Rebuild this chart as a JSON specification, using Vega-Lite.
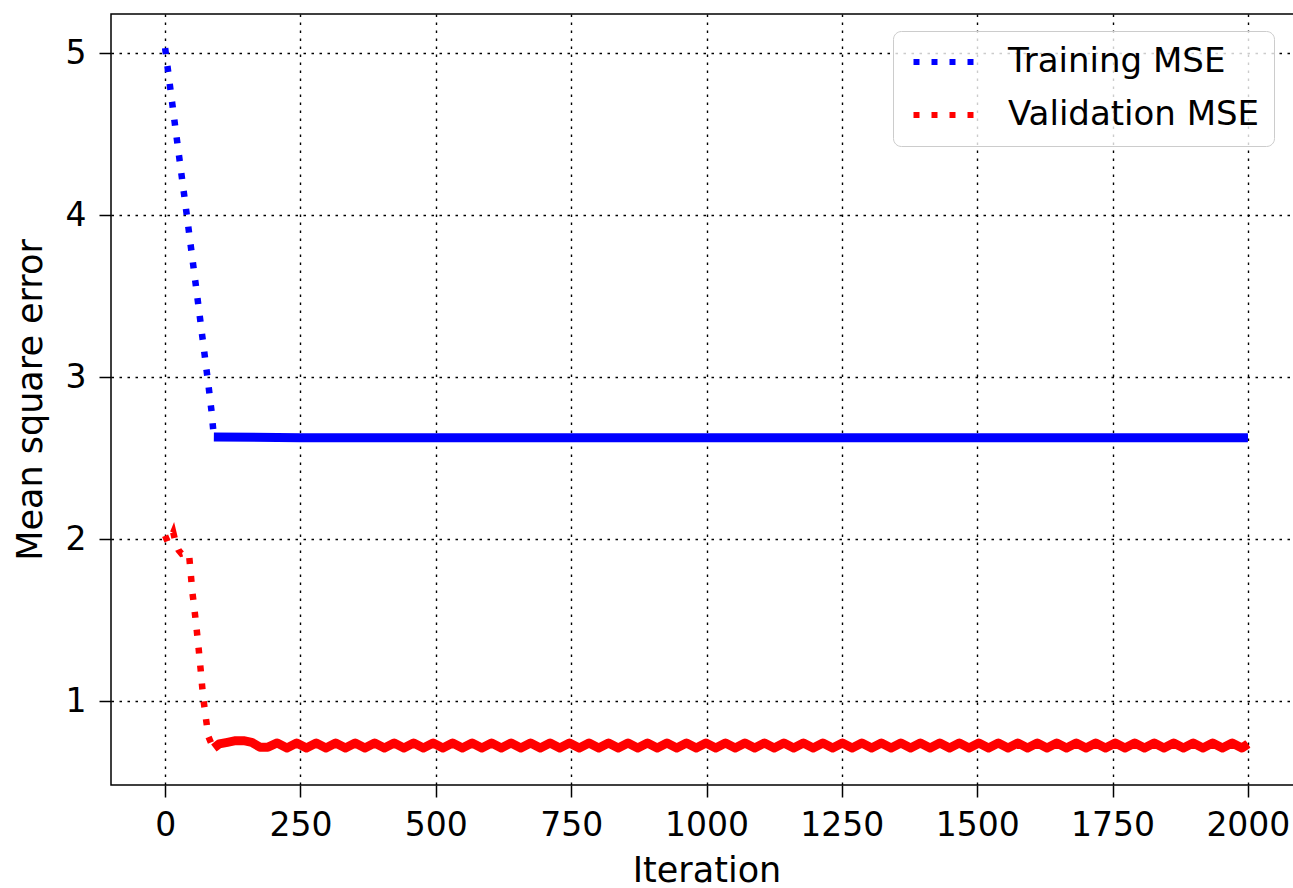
{
  "$schema": "https://vega.github.io/schema/vega-lite/v6.json",
  "autosize": {"type": "none"},
  "padding": {"left": 111, "top": 14, "right": 0, "bottom": 103},
  "width": 1191,
  "height": 771,
  "background": "white",
  "config": {
    "font": "DejaVu Sans",
    "view": {"stroke": "black", "strokeWidth": 1.5},
    "axis": {
      "grid": true,
      "gridColor": "black",
      "gridOpacity": 1,
      "gridWidth": 1.4,
      "gridDash": [2.5, 5.5],
      "domain": false,
      "tickColor": "black",
      "tickWidth": 1.5,
      "tickSize": 12,
      "labelFont": "DejaVu Sans",
      "labelFontSize": 33,
      "labelColor": "black",
      "titleFont": "DejaVu Sans",
      "titleFontSize": 35,
      "titleFontWeight": "normal",
      "titleColor": "black"
    },
    "legend": {
      "orient": "none",
      "legendX": 782,
      "legendY": 17,
      "padding": 14,
      "strokeColor": "#cccccc",
      "fillColor": "rgba(255,255,255,0.8)",
      "cornerRadius": 8,
      "labelFont": "DejaVu Sans",
      "labelFontSize": 34,
      "labelColor": "black",
      "labelLimit": 500,
      "rowPadding": 19
    }
  },
  "data": {"values": [
    {"series": "Training MSE", "iter": 0, "mse": 5.03},
    {"series": "Training MSE", "iter": 20, "mse": 4.51},
    {"series": "Training MSE", "iter": 40, "mse": 4.0},
    {"series": "Training MSE", "iter": 60, "mse": 3.48},
    {"series": "Training MSE", "iter": 80, "mse": 2.95},
    {"series": "Training MSE", "iter": 86, "mse": 2.78},
    {"series": "Training MSE", "iter": 90, "mse": 2.63},
    {"series": "Training MSE", "iter": 250, "mse": 2.625},
    {"series": "Training MSE", "iter": 500, "mse": 2.625},
    {"series": "Training MSE", "iter": 750, "mse": 2.625},
    {"series": "Training MSE", "iter": 1000, "mse": 2.625},
    {"series": "Training MSE", "iter": 1250, "mse": 2.625},
    {"series": "Training MSE", "iter": 1500, "mse": 2.625},
    {"series": "Training MSE", "iter": 1750, "mse": 2.625},
    {"series": "Training MSE", "iter": 2000, "mse": 2.625},
    {"series": "Validation MSE", "iter": 0, "mse": 2.02},
    {"series": "Validation MSE", "iter": 5, "mse": 1.98},
    {"series": "Validation MSE", "iter": 10, "mse": 2.0},
    {"series": "Validation MSE", "iter": 15, "mse": 2.04},
    {"series": "Validation MSE", "iter": 20, "mse": 1.97},
    {"series": "Validation MSE", "iter": 25, "mse": 1.93},
    {"series": "Validation MSE", "iter": 30, "mse": 1.91},
    {"series": "Validation MSE", "iter": 40, "mse": 1.92},
    {"series": "Validation MSE", "iter": 44, "mse": 1.91},
    {"series": "Validation MSE", "iter": 47, "mse": 1.8},
    {"series": "Validation MSE", "iter": 50, "mse": 1.68},
    {"series": "Validation MSE", "iter": 54, "mse": 1.57},
    {"series": "Validation MSE", "iter": 58, "mse": 1.45},
    {"series": "Validation MSE", "iter": 62, "mse": 1.32},
    {"series": "Validation MSE", "iter": 66, "mse": 1.18},
    {"series": "Validation MSE", "iter": 70, "mse": 1.03},
    {"series": "Validation MSE", "iter": 75, "mse": 0.9},
    {"series": "Validation MSE", "iter": 80, "mse": 0.78},
    {"series": "Validation MSE", "iter": 85, "mse": 0.74},
    {"series": "Validation MSE", "iter": 90, "mse": 0.71},
    {"series": "Validation MSE", "iter": 100, "mse": 0.735},
    {"series": "Validation MSE", "iter": 115, "mse": 0.745},
    {"series": "Validation MSE", "iter": 130, "mse": 0.755},
    {"series": "Validation MSE", "iter": 145, "mse": 0.755},
    {"series": "Validation MSE", "iter": 160, "mse": 0.745},
    {"series": "Validation MSE", "iter": 175, "mse": 0.715},
    {"series": "Validation MSE", "iter": 190, "mse": 0.715},
    {"series": "Validation MSE", "iter": 207, "mse": 0.741},
    {"series": "Validation MSE", "iter": 225, "mse": 0.71},
    {"series": "Validation MSE", "iter": 243, "mse": 0.741},
    {"series": "Validation MSE", "iter": 261, "mse": 0.71},
    {"series": "Validation MSE", "iter": 279, "mse": 0.741},
    {"series": "Validation MSE", "iter": 297, "mse": 0.71},
    {"series": "Validation MSE", "iter": 315, "mse": 0.741},
    {"series": "Validation MSE", "iter": 333, "mse": 0.71},
    {"series": "Validation MSE", "iter": 351, "mse": 0.741},
    {"series": "Validation MSE", "iter": 369, "mse": 0.71},
    {"series": "Validation MSE", "iter": 387, "mse": 0.741},
    {"series": "Validation MSE", "iter": 405, "mse": 0.71},
    {"series": "Validation MSE", "iter": 423, "mse": 0.741},
    {"series": "Validation MSE", "iter": 441, "mse": 0.71},
    {"series": "Validation MSE", "iter": 459, "mse": 0.741},
    {"series": "Validation MSE", "iter": 477, "mse": 0.71},
    {"series": "Validation MSE", "iter": 495, "mse": 0.741},
    {"series": "Validation MSE", "iter": 513, "mse": 0.71},
    {"series": "Validation MSE", "iter": 531, "mse": 0.741},
    {"series": "Validation MSE", "iter": 549, "mse": 0.71},
    {"series": "Validation MSE", "iter": 567, "mse": 0.741},
    {"series": "Validation MSE", "iter": 585, "mse": 0.71},
    {"series": "Validation MSE", "iter": 603, "mse": 0.741},
    {"series": "Validation MSE", "iter": 621, "mse": 0.71},
    {"series": "Validation MSE", "iter": 639, "mse": 0.741},
    {"series": "Validation MSE", "iter": 657, "mse": 0.71},
    {"series": "Validation MSE", "iter": 675, "mse": 0.741},
    {"series": "Validation MSE", "iter": 693, "mse": 0.71},
    {"series": "Validation MSE", "iter": 711, "mse": 0.741},
    {"series": "Validation MSE", "iter": 729, "mse": 0.71},
    {"series": "Validation MSE", "iter": 747, "mse": 0.741},
    {"series": "Validation MSE", "iter": 765, "mse": 0.71},
    {"series": "Validation MSE", "iter": 783, "mse": 0.741},
    {"series": "Validation MSE", "iter": 801, "mse": 0.71},
    {"series": "Validation MSE", "iter": 819, "mse": 0.741},
    {"series": "Validation MSE", "iter": 837, "mse": 0.71},
    {"series": "Validation MSE", "iter": 855, "mse": 0.741},
    {"series": "Validation MSE", "iter": 873, "mse": 0.71},
    {"series": "Validation MSE", "iter": 891, "mse": 0.741},
    {"series": "Validation MSE", "iter": 909, "mse": 0.71},
    {"series": "Validation MSE", "iter": 927, "mse": 0.741},
    {"series": "Validation MSE", "iter": 945, "mse": 0.71},
    {"series": "Validation MSE", "iter": 963, "mse": 0.741},
    {"series": "Validation MSE", "iter": 981, "mse": 0.71},
    {"series": "Validation MSE", "iter": 999, "mse": 0.741},
    {"series": "Validation MSE", "iter": 1017, "mse": 0.71},
    {"series": "Validation MSE", "iter": 1035, "mse": 0.741},
    {"series": "Validation MSE", "iter": 1053, "mse": 0.71},
    {"series": "Validation MSE", "iter": 1071, "mse": 0.741},
    {"series": "Validation MSE", "iter": 1089, "mse": 0.71},
    {"series": "Validation MSE", "iter": 1107, "mse": 0.741},
    {"series": "Validation MSE", "iter": 1125, "mse": 0.71},
    {"series": "Validation MSE", "iter": 1143, "mse": 0.741},
    {"series": "Validation MSE", "iter": 1161, "mse": 0.71},
    {"series": "Validation MSE", "iter": 1179, "mse": 0.741},
    {"series": "Validation MSE", "iter": 1197, "mse": 0.71},
    {"series": "Validation MSE", "iter": 1215, "mse": 0.741},
    {"series": "Validation MSE", "iter": 1233, "mse": 0.71},
    {"series": "Validation MSE", "iter": 1251, "mse": 0.741},
    {"series": "Validation MSE", "iter": 1269, "mse": 0.71},
    {"series": "Validation MSE", "iter": 1287, "mse": 0.741},
    {"series": "Validation MSE", "iter": 1305, "mse": 0.71},
    {"series": "Validation MSE", "iter": 1323, "mse": 0.741},
    {"series": "Validation MSE", "iter": 1341, "mse": 0.71},
    {"series": "Validation MSE", "iter": 1359, "mse": 0.741},
    {"series": "Validation MSE", "iter": 1377, "mse": 0.71},
    {"series": "Validation MSE", "iter": 1395, "mse": 0.741},
    {"series": "Validation MSE", "iter": 1413, "mse": 0.71},
    {"series": "Validation MSE", "iter": 1431, "mse": 0.741},
    {"series": "Validation MSE", "iter": 1449, "mse": 0.71},
    {"series": "Validation MSE", "iter": 1467, "mse": 0.741},
    {"series": "Validation MSE", "iter": 1485, "mse": 0.71},
    {"series": "Validation MSE", "iter": 1503, "mse": 0.741},
    {"series": "Validation MSE", "iter": 1521, "mse": 0.71},
    {"series": "Validation MSE", "iter": 1539, "mse": 0.741},
    {"series": "Validation MSE", "iter": 1557, "mse": 0.71},
    {"series": "Validation MSE", "iter": 1575, "mse": 0.741},
    {"series": "Validation MSE", "iter": 1593, "mse": 0.71},
    {"series": "Validation MSE", "iter": 1611, "mse": 0.741},
    {"series": "Validation MSE", "iter": 1629, "mse": 0.71},
    {"series": "Validation MSE", "iter": 1647, "mse": 0.741},
    {"series": "Validation MSE", "iter": 1665, "mse": 0.71},
    {"series": "Validation MSE", "iter": 1683, "mse": 0.741},
    {"series": "Validation MSE", "iter": 1701, "mse": 0.71},
    {"series": "Validation MSE", "iter": 1719, "mse": 0.741},
    {"series": "Validation MSE", "iter": 1737, "mse": 0.71},
    {"series": "Validation MSE", "iter": 1755, "mse": 0.741},
    {"series": "Validation MSE", "iter": 1773, "mse": 0.71},
    {"series": "Validation MSE", "iter": 1791, "mse": 0.741},
    {"series": "Validation MSE", "iter": 1809, "mse": 0.71},
    {"series": "Validation MSE", "iter": 1827, "mse": 0.741},
    {"series": "Validation MSE", "iter": 1845, "mse": 0.71},
    {"series": "Validation MSE", "iter": 1863, "mse": 0.741},
    {"series": "Validation MSE", "iter": 1881, "mse": 0.71},
    {"series": "Validation MSE", "iter": 1899, "mse": 0.741},
    {"series": "Validation MSE", "iter": 1917, "mse": 0.71},
    {"series": "Validation MSE", "iter": 1935, "mse": 0.741},
    {"series": "Validation MSE", "iter": 1953, "mse": 0.71},
    {"series": "Validation MSE", "iter": 1971, "mse": 0.741},
    {"series": "Validation MSE", "iter": 1989, "mse": 0.71},
    {"series": "Validation MSE", "iter": 2000, "mse": 0.735}
  ]},
  "encoding": {
    "x": {
      "field": "iter",
      "type": "quantitative",
      "title": "Iteration",
      "scale": {"domain": [-100, 2100], "nice": false, "zero": false},
      "axis": {"values": [0, 250, 500, 750, 1000, 1250, 1500, 1750, 2000], "labelPadding": 12, "titlePadding": 11, "format": "d"}
    },
    "y": {
      "field": "mse",
      "type": "quantitative",
      "title": "Mean square error",
      "scale": {"domain": [0.4815, 5.241], "nice": false, "zero": false},
      "axis": {"values": [1, 2, 3, 4, 5], "labelPadding": 13, "titlePadding": 17, "format": "d"}
    },
    "color": {
      "field": "series",
      "type": "nominal",
      "title": null,
      "scale": {"domain": ["Training MSE", "Validation MSE"], "range": ["#0000ff", "#ff0000"]},
      "legend": {
        "symbolType": "M-1,0H5",
        "symbolSize": 441,
        "symbolStrokeWidth": 6,
        "symbolDash": [6, 12],
        "labelOffset": 67
      }
    },
    "order": {"field": "iter", "type": "quantitative"}
  },
  "layer": [
    {
      "mark": {"type": "line", "strokeWidth": 6.5, "strokeDash": [6, 12], "strokeCap": "butt", "strokeJoin": "miter"}
    },
    {
      "transform": [{"filter": "(datum.series == 'Training MSE' && datum.iter >= 90) || (datum.series == 'Validation MSE' && datum.iter >= 88)"}],
      "mark": {"type": "line", "strokeWidth": 9, "strokeCap": "butt", "strokeJoin": "round"}
    }
  ]
}
